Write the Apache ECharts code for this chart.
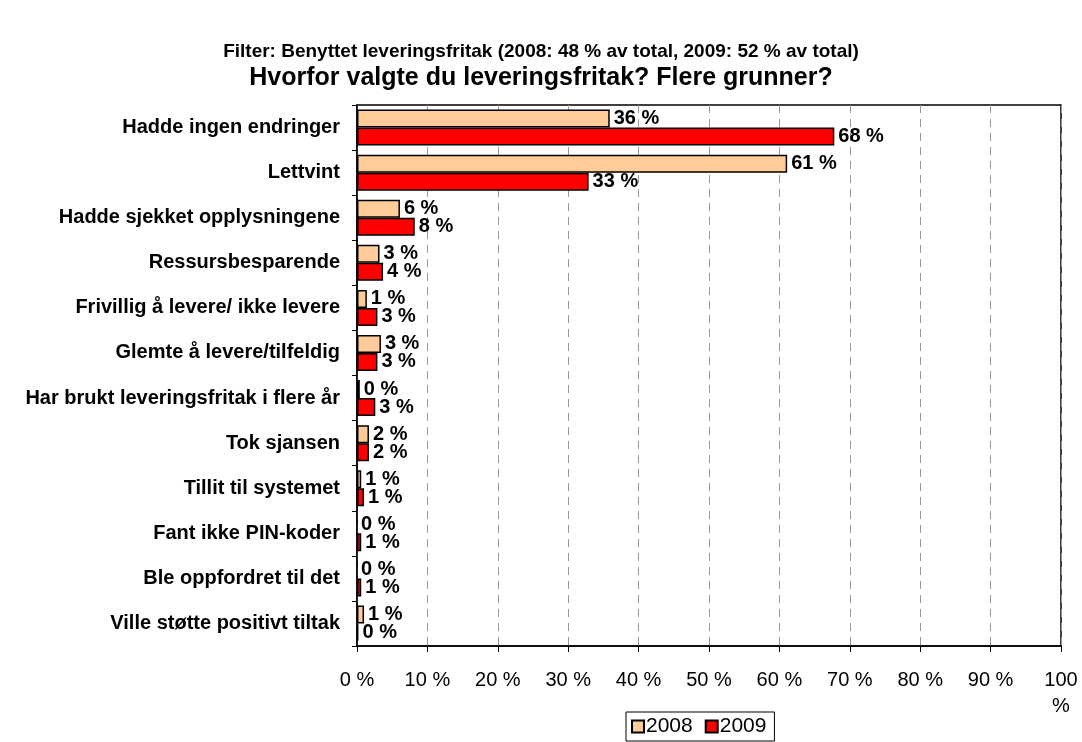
<!DOCTYPE html>
<html>
<head>
<meta charset="utf-8">
<script src="https://cdn.jsdelivr.net/npm/echarts@6/dist/echarts.min.js"></script>
<style>
  html, body { margin: 0; padding: 0; background: #fff; }
  #chart { width: 1082px; height: 742px; }
</style>
</head>
<body>
<div id="chart"></div>
<script>
// categories, top to bottom
const categories = [
  "Hadde ingen endringer",
  "Lettvint",
  "Hadde sjekket opplysningene",
  "Ressursbesparende",
  "Frivillig å levere/ ikke levere",
  "Glemte å levere/tilfeldig",
  "Har brukt leveringsfritak i flere år",
  "Tok sjansen",
  "Tillit til systemet",
  "Fant ikke PIN-koder",
  "Ble oppfordret til det",
  "Ville støtte positivt tiltak"
];
// percent
const values2008 = [35.9, 61.1, 6.1, 3.2, 1.4, 3.4, 0.4, 1.7, 0.6, 0, 0, 1.0];
const values2009 = [67.8, 32.9, 8.2, 3.7, 2.9, 2.9, 2.6, 1.7, 1.0, 0.6, 0.6, 0.2];
const xTicks = [0, 10, 20, 30, 40, 50, 60, 70, 80, 90, 100];

const FONT = "Liberation Sans, Arial, sans-serif";

function barData(vals) {
  // no outline for a zero bar
  return vals.map(v => v === 0 ? { value: v, itemStyle: { borderWidth: 0 } } : v);
}

const labelStyle = {
  show: true,
  position: "right",
  distance: 4,
  color: "#000",
  fontFamily: FONT,
  fontWeight: "bold",
  fontSize: 20,
  formatter: p => Math.round(p.value) + " %"
};

const chart = echarts.init(document.getElementById("chart"));
chart.setOption({
  animation: false,
  backgroundColor: "#fff",
  textStyle: { fontFamily: FONT },
  title: [
    {
      text: "Filter: Benyttet leveringsfritak (2008: 48 % av total, 2009: 52 % av total)",
      left: "center",
      top: 37,
      textStyle: { fontFamily: FONT, fontSize: 19, fontWeight: "bold", color: "#000" }
    },
    {
      text: "Hvorfor valgte du leveringsfritak? Flere grunner?",
      left: "center",
      top: 61,
      textStyle: { fontFamily: FONT, fontSize: 25, fontWeight: "bold", color: "#000" }
    }
  ],
  legend: {
    data: ["2008", "2009"],
    left: 626,
    top: 712,
    orient: "horizontal",
    itemWidth: 12,
    itemHeight: 12,
    itemGap: 12,
    padding: [4, 8, 4, 5],
    borderColor: "#000",
    borderWidth: 1,
    icon: "rect",
    textStyle: { fontFamily: FONT, fontSize: 21, color: "#000", padding: [0, 0, 0, -3] }
  },
  grid: {
    left: 357,
    right: 21,
    top: 105,
    bottom: 96,
    show: true,
    borderColor: "#000",
    borderWidth: 1.5
  },
  xAxis: {
    type: "value",
    min: xTicks[0],
    max: xTicks[xTicks.length - 1],
    interval: 10,
    axisLine: { show: true, lineStyle: { color: "#000", width: 1.5 } },
    axisTick: { show: true, length: 6, lineStyle: { color: "#000" } },
    axisLabel: {
      margin: 21,
      fontFamily: FONT,
      fontSize: 20,
      color: "#000",
      lineHeight: 26,
      formatter: v => v === 100 ? "100\n%" : v + " %"
    },
    splitLine: { show: true, lineStyle: { color: "#999", type: [8, 6], width: 1 } }
  },
  yAxis: {
    type: "category",
    inverse: true,
    data: categories,
    axisLine: { show: true, lineStyle: { color: "#000", width: 1.5 } },
    axisTick: { show: true, length: 5, lineStyle: { color: "#000" } },
    axisLabel: {
      margin: 17,
      fontFamily: FONT,
      fontSize: 20,
      fontWeight: "bold",
      color: "#000"
    },
    splitLine: { show: false }
  },
  series: [
    {
      name: "2008",
      type: "bar",
      barWidth: 18,
      barGap: "0%",
      data: barData(values2008),
      itemStyle: { color: "#FFCC99", borderColor: "#000", borderWidth: 1.5 },
      label: labelStyle
    },
    {
      name: "2009",
      type: "bar",
      barWidth: 18,
      barGap: "0%",
      data: barData(values2009),
      itemStyle: { color: "#FF0000", borderColor: "#000", borderWidth: 1.5 },
      label: labelStyle
    }
  ]
});
</script>
</body>
</html>
